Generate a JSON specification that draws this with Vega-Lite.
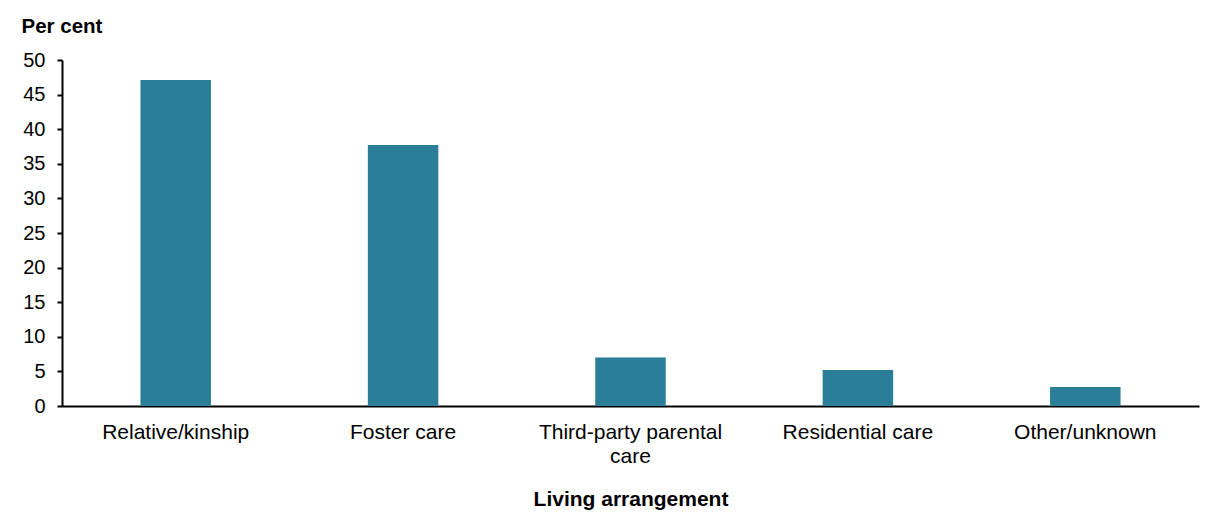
{
  "$schema": "https://vega.github.io/schema/vega-lite/v6.json",
  "width": 1137,
  "height": 346,
  "autosize": {"type": "none"},
  "padding": {"left": 62, "top": 60, "right": 27, "bottom": 116},
  "background": "white",
  "config": {
    "view": {"stroke": null},
    "font": "Liberation Sans",
    "axis": {"labelFont": "Liberation Sans", "titleFont": "Liberation Sans", "labelColor": "#000", "titleColor": "#000", "domainColor": "#000", "tickColor": "#000", "grid": false}
  },
  "data": {
    "values": [
      {"arrangement": "Relative/kinship", "pct": 47.1},
      {"arrangement": "Foster care", "pct": 37.7},
      {"arrangement": "Third-party parental care", "pct": 7.0},
      {"arrangement": "Residential care", "pct": 5.2},
      {"arrangement": "Other/unknown", "pct": 2.75}
    ]
  },
  "mark": {"type": "bar", "color": "#2A7E97"},
  "encoding": {
    "x": {
      "field": "arrangement",
      "type": "nominal",
      "sort": null,
      "scale": {"paddingInner": 0.69, "paddingOuter": 0.345},
      "axis": {
        "title": "Living arrangement",
        "titleFontSize": 21,
        "titleFontWeight": "bold",
        "titleBaseline": "alphabetic",
        "titleY": 99,
        "labelAngle": 0,
        "labelFontSize": 21,
        "labelBaseline": "alphabetic",
        "labelPadding": 32,
        "labelLineHeight": 24,
        "labelLimit": 400,
        "ticks": false,
        "tickSize": 0,
        "domainWidth": 2,
        "labelExpr": "datum.label == 'Third-party parental care' ? ['Third-party parental', 'care'] : datum.label"
      }
    },
    "y": {
      "field": "pct",
      "type": "quantitative",
      "scale": {"domain": [0, 50], "nice": false},
      "axis": {
        "title": "Per cent",
        "titleAngle": 0,
        "titleAlign": "left",
        "titleBaseline": "alphabetic",
        "titleX": -41,
        "titleY": -28,
        "titleFontSize": 20.5,
        "titleFontWeight": "bold",
        "values": [0, 5, 10, 15, 20, 25, 30, 35, 40, 45, 50],
        "labelFontSize": 20,
        "labelPadding": 12,
        "tickSize": 5,
        "tickWidth": 2,
        "domainWidth": 2
      }
    }
  }
}
